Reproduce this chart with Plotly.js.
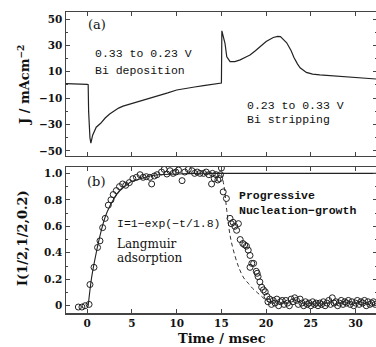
<!DOCTYPE html>
<html><head><meta charset="utf-8">
<script src="https://cdn.plot.ly/plotly-3.0.1.min.js"></script>
<style>html,body{margin:0;padding:0;overflow:hidden;background:#fff}</style>
</head><body><div id="chart"></div>
<script>
// ---- Panel (a): current transient ----
const tCurrent = [-2.4,-1.5,-0.5,0.0,0.1,0.15,0.3,0.4,0.6,1.0,1.5,2.0,2.5,3.0,3.5,4.0,5.0,6.0,7.0,8.0,9.0,10.0,11.0,12.0,13.0,14.0,14.9,15.0,15.05,15.2,15.4,15.6,15.97,16.5,17.1,17.8,18.2,18.8,19.3,20.0,20.8,21.3,21.6,22.3,22.8,23.1,23.5,23.8,24.5,25.2,26.0,27.0,28.0,29.0,30.0,31.0,32.4];
const jCurrent = [1.0,1.0,0.8,0.5,0.3,-20,-40,-44,-38,-32,-29,-25,-22,-19.5,-17.5,-16,-14,-12.5,-10.5,-8,-6,-3.8,-2.5,-1.5,-0.5,0.5,1.2,1.5,41,36,31.6,21.4,17.7,17.7,19,21.4,22.7,26,29,33,36,36.8,36.6,32,26,21,16,13,9.5,8.2,7.6,7.2,6.8,6.3,5.8,5.2,4.5];

// ---- Panel (b): integrated intensity data points ----
const tPoints = [-1.0,-0.6,-0.25,0.2,0.3,0.75,1.15,1.42,1.72,2.0,2.35,2.65,2.9,3.25,3.6,3.95,4.3,4.7,5.1,5.5,5.9,6.25,6.6,7.0,7.2,7.5,7.8,8.3,8.6,8.9,9.25,9.6,9.9,10.2,10.6,10.9,11.3,11.7,12.0,12.3,12.6,13.0,13.3,13.6,13.9,14.0,14.2,14.4,14.6,14.8,14.9,15.0,
 15.2,15.56,15.96,16.1,16.3,16.5,16.7,16.9,17.1,17.4,17.6,17.8,18.0,18.2,18.2,18.4,18.6,18.9,19.0,19.1,19.3,19.5,19.7,19.9,20.1,
 20.2,20.4,20.6,20.8,21.0,21.2,21.4,21.6,21.8,22.0,22.2,22.4,22.6,22.8,23.0,23.2,23.4,23.6,23.8,24.0,24.2,24.4,24.6,24.8,25.0,25.2,25.4,25.6,25.8,26.0,26.2,26.4,26.6,26.8,27.0,27.2,27.4,27.6,27.8,28.0,28.2,28.4,28.6,28.8,29.0,29.2,29.4,29.6,29.8,30.0,30.2,30.4,30.6,30.8,31.0,31.2,31.4,31.6,31.8,32.0,32.2];
const iPoints = [-0.01,-0.01,0.0,0.01,0.16,0.29,0.44,0.49,0.59,0.66,0.76,0.80,0.84,0.87,0.90,0.92,0.91,0.93,0.96,0.97,0.99,0.97,0.975,0.97,0.92,0.98,0.99,1.01,1.03,0.995,1.02,1.0,1.01,1.025,0.945,1.01,1.03,1.02,1.0,1.01,1.0,1.0,1.01,0.99,0.92,1.0,0.96,0.99,0.95,0.96,0.99,1.04,
 0.86,0.81,0.66,0.62,0.63,0.60,0.57,0.62,0.50,0.47,0.46,0.45,0.42,0.38,0.29,0.32,0.32,0.26,0.245,0.22,0.18,0.14,0.12,0.105,0.07,
 0.03,0.05,0.01,0.04,0.02,0.05,0.00,0.03,0.04,0.01,0.04,0.02,0.00,0.05,0.03,0.06,0.04,0.01,0.05,0.02,0.00,0.03,0.01,0.02,0.00,0.03,0.01,0.02,0.00,0.02,0.01,0.03,0.00,0.02,0.04,0.01,0.06,0.02,0.03,0.00,0.02,0.04,0.01,0.03,0.02,0.04,0.01,0.03,0.00,0.02,0.04,0.01,0.03,0.02,0.04,0.00,0.03,0.01,0.02,0.03,0.01];

// Langmuir fit line (solid)
const tLangmuir = [0.1,0.5,1.0,1.5,2.0,2.5,3.0,3.5,4.0,5.0,6.0,7.0,8.0,10.0,12.0,15.0,20.0,25.0,32.4];
const iLangmuir = [0.0,0.22,0.40,0.55,0.67,0.75,0.81,0.86,0.89,0.94,0.96,0.98,0.99,0.995,1.0,1.0,1.0,1.0,1.0];

// Progressive nucleation-growth fit (dashed)
const tNucleation = [15.0,15.3,15.6,16.0,16.5,17.0,17.5,18.0,18.5,19.0,19.5,20.0,20.5];
const iNucleation = [1.0,0.9,0.72,0.52,0.38,0.28,0.21,0.17,0.13,0.10,0.07,0.04,0.02];

const xTicks = [0,5,10,15,20,25,30];
const yTopTicks = [-50,-30,-10,10,30,50];
const yTopMinor = [-40,-20,0,20,40];
const yBotTicks = [0,0.2,0.4,0.6,0.8,1.0];
const yBotText = ['0','0.2','0.4','0.6','0.8','1.0'];
const yBotMinor = [0.1,0.3,0.5,0.7,0.9];

const axisColor = '#444';
const tickFont = {family:'DejaVu Serif', size:10.5, color:'#111', weight:'bold'};
const monoFont = {family:'Liberation Mono', size:11.5, color:'#111'};
const serifFont = {family:'DejaVu Serif', size:12, color:'#111'};

const traces = [
  {x:tCurrent, y:jCurrent, xaxis:'x2', yaxis:'y2', mode:'lines', line:{color:'#222', width:1.2}, hoverinfo:'skip'},
  {x:tLangmuir, y:iLangmuir, xaxis:'x', yaxis:'y', mode:'lines', line:{color:'#222', width:1.1, shape:'spline'}, hoverinfo:'skip'},
  {x:tNucleation, y:iNucleation, xaxis:'x', yaxis:'y', mode:'lines', line:{color:'#333', width:1, dash:'4px,3px', shape:'spline'}, hoverinfo:'skip'},
  {x:tPoints, y:iPoints, xaxis:'x', yaxis:'y', mode:'markers', marker:{symbol:'circle-open', size:6, color:'#222', line:{width:1, color:'#222'}}, hoverinfo:'skip'}
];

const common = {showline:true, linecolor:axisColor, linewidth:1.5, mirror:'allticks', ticks:'inside', ticklen:4, tickcolor:axisColor, tickwidth:1, showgrid:false, zeroline:false, tickfont:tickFont};

function px(x){return (x-66)/311;}
function py(y){return (313-y)/301;}

const boldMono = Object.assign({}, monoFont, {weight:'bold'});
const titleFont = {family:'DejaVu Serif', size:13, color:'#111', weight:'bold'};

const annotations = [
  {text:'(a)', x:px(87), y:py(25), font:{family:'DejaVu Serif', size:13, color:'#111'}},
  {text:'0.33 to 0.23 V', x:px(94), y:py(53), font:monoFont},
  {text:'Bi deposition', x:px(94), y:py(71), font:monoFont},
  {text:'0.23 to 0.33 V', x:px(246), y:py(105), font:monoFont},
  {text:'Bi stripping', x:px(246), y:py(119), font:monoFont},
  {text:'(b)', x:px(86), y:py(182), font:{family:'DejaVu Serif', size:13, color:'#111'}},
  {text:'I=1\u2212exp(\u2212t/1.8)', x:px(116), y:py(223), font:monoFont},
  {text:'Langmuir', x:px(116), y:py(244), font:serifFont},
  {text:'adsorption', x:px(116), y:py(258), font:serifFont},
  {text:'Progressive', x:px(238), y:py(195), font:boldMono},
  {text:'Nucleation\u2212growth', x:px(238), y:py(210), font:boldMono},
  {text:'Time / msec', x:px(222), y:py(338), xanchor:'center', font:titleFont},
  {text:'J / mAcm<sup>\u22122</sup>', x:px(23), y:py(85), xanchor:'center', textangle:-90, font:titleFont},
  {text:'I(1/2,1/2,0.2)', x:px(22), y:py(238), xanchor:'center', textangle:-90, font:titleFont}
].map(a => Object.assign({xref:'paper', yref:'paper', showarrow:false, xanchor:'left', yanchor:'middle', borderpad:0}, a));

const layout = {
  width:377, height:347,
  margin:{l:66, r:0, t:12, b:34},
  paper_bgcolor:'#fff', plot_bgcolor:'#fff',
  showlegend:false,
  xaxis: Object.assign({}, common, {domain:[0,1], range:[-2.38,32.4], anchor:'y', tickvals:xTicks}),
  xaxis2: Object.assign({}, common, {domain:[0,1], range:[-2.38,32.4], anchor:'y2', tickvals:xTicks, showticklabels:false, matches:'x'}),
  yaxis: Object.assign({}, common, {domain:[0,0.485], range:[-0.055,1.048], anchor:'x', tickvals:yBotTicks, ticktext:yBotText,
          minor:{tickvals:yBotMinor, ticks:'inside', ticklen:2, tickcolor:axisColor, showgrid:false}}),
  yaxis2: Object.assign({}, common, {domain:[0.5216,1], range:[-53.8,55.3], anchor:'x2', tickvals:yTopTicks,
          minor:{tickvals:yTopMinor, ticks:'inside', ticklen:2, tickcolor:axisColor, showgrid:false}}),
  annotations: annotations
};

Plotly.newPlot('chart', traces, layout, {staticPlot:true, displayModeBar:false});
</script>
</body></html>
